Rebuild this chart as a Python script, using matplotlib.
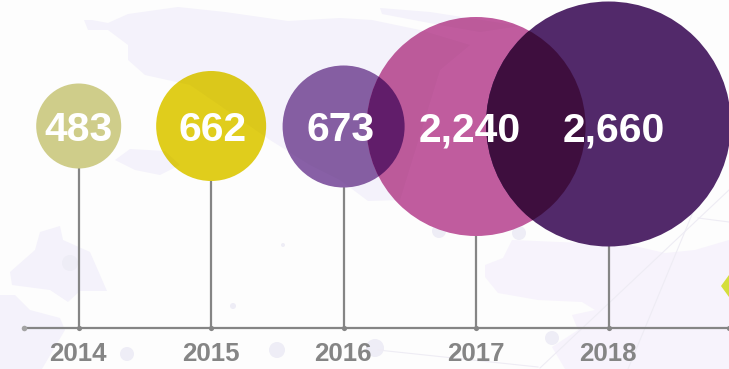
import matplotlib
matplotlib.use("Agg")
import matplotlib.pyplot as plt
from matplotlib.patches import Ellipse, Polygon, Circle

years = [2014, 2015, 2016, 2017, 2018]
values = [483, 662, 673, 2240, 2660]
value_labels = ["483", "662", "673", "2,240", "2,660"]

# styles / layout (pixels)
W, H = 729, 369
radii = [42.5, 55, 61, 109.5, 122.5]
cy = [126, 126, 126.5, 126.5, 124]
colors = ["#cfcd8a", "#e0cd1c", "#8860a6", "#c05c9e", "#52296a"]
label_dx = [-0.5, 1, -3.5, -6, 5]
X0, DX = 78.7, 132.45
AXIS_Y = 328
GREY = "#858585"
MAP = "#f4f2fb"
MAP2 = "#f7f3fc"

fig = plt.figure(figsize=(W / 100, H / 100), dpi=100, facecolor="#fdfdfd")
bg = fig.add_axes([0, 0, 1, 1], zorder=0)
bg.set_xlim(0, W); bg.set_ylim(H, 0); bg.axis("off")
ax = fig.add_axes([0, 0, 1, 1], zorder=1)
ax.patch.set_alpha(0)
left = 2014 - X0 / DX
ax.set_xlim(left, left + W / DX); ax.set_ylim(H, 0); ax.axis("off")
sx = 1 / DX

# faint background map
shapes = [
    ([(84,20),(92,20),(108,23),(128,14),(178,7),(225,12),(288,21),(340,18),(372,20),(420,30),(470,45),(440,70),
      (400,200),(368,201),(340,180),(310,165),(270,140),(190,85),(145,75),(128,60),(128,45),(108,30),(88,30)], MAP),
    ([(380,8),(430,12),(520,26),(480,32),(440,25),(382,14)], MAP),
    ([(115,160),(130,149),(165,151),(180,165),(160,175),(135,170)], MAP),
    ([(40,232),(60,226),(63,240),(90,252),(107,291),(80,291),(68,302),(50,290),(12,285),(10,272),(35,250)], MAP),
    ([(0,295),(15,295),(30,310),(60,318),(65,330),(42,369),(0,369)], MAP),
    ([(512,240),(503,258),(485,265),(485,277),(498,293),(538,300),(582,302),(595,310),(572,315),(578,330),(552,347),(565,369),
      (729,369),(729,240),(695,250),(665,253),(630,245)], MAP2),
]
for pts, c in shapes:
    bg.add_patch(Polygon(pts, closed=True, fc=c, ec="none"))
for p in [((540,368),(729,190)), ((628,369),(698,200)), ((378,350),(538,367)), ((698,218),(729,222))]:
    bg.plot(*zip(*p), color="#eeecf4", lw=0.8)
for x, y, r in [(127,354,7),(277,350,8),(552,338,7),(70,263,8),(439,231,7),(519,233,7),(375,348,9),(233,306,3),(283,245,2)]:
    bg.add_patch(Circle((x, y), r, fc="#eeedf6", ec="none"))
bg.add_patch(Polygon([(721,286),(729,275),(729,297)], closed=True, fc="#d4de3c", ec="none"))

# axis, stems
ax.plot([2014 + (24 - X0) / DX, left + W / DX], [AXIS_Y, AXIS_Y], color=GREY, lw=1.6, zorder=2, solid_capstyle="butt")
for yr, c, r in zip(years, cy, radii):
    ax.plot([yr, yr], [c + r - 1, AXIS_Y], color=GREY, lw=1.6, zorder=2, solid_capstyle="butt")
ax.scatter(years, [AXIS_Y] * 5, s=14, color=GREY, zorder=3, linewidths=0)
ax.scatter([2014 + (24 - X0) / DX], [AXIS_Y], s=16, color="#a3a3a3", zorder=3, linewidths=0)
ax.scatter([left + W / DX], [AXIS_Y], s=14, color=GREY, zorder=3, linewidths=0, clip_on=True)

# bubbles
patches = []
for yr, c, r, col in zip(years, cy, radii, colors):
    e = Ellipse((yr, c), 2 * r * sx, 2 * r, fc=col, ec="none", zorder=4)
    ax.add_patch(e)
    patches.append(e)

# overlaps between neighbours (multiply look)
for i, j, col in [(2, 3, "#651f70"), (3, 4, "#3e0e3e")]:
    o = Ellipse((years[j], cy[j]), 2 * radii[j] * sx, 2 * radii[j], fc=col, ec="none", zorder=5)
    ax.add_patch(o)
    o.set_clip_path(patches[i])

# faint map showing through bubbles
for pts, _ in shapes[:3]:
    for e in patches[:4]:
        pg = Polygon(pts, closed=True, fc="#000000", alpha=0.018, ec="none", zorder=6, transform=bg.transData)
        ax.add_patch(pg)
        pg.set_clip_path(e)

font = ["Liberation Sans", "DejaVu Sans"]
for yr, lab, dx in zip(years, value_labels, label_dx):
    ax.text(yr + dx * sx, 141, lab, color="white", fontsize=29.4, fontweight="bold",
            family=font, ha="center", va="baseline", zorder=8)
    ax.text(yr - 0.5 * sx, 361, str(yr), color=GREY, fontsize=18.6, fontweight="bold",
            family=font, ha="center", va="baseline", zorder=8)

fig.savefig("out.png", dpi=100, facecolor=fig.get_facecolor())
